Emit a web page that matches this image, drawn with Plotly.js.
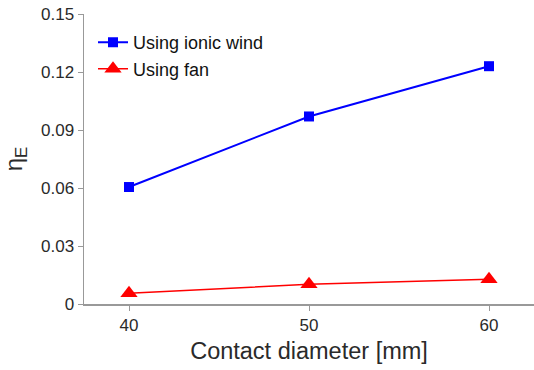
<!DOCTYPE html>
<html>
<head>
<meta charset="utf-8">
<script src="https://cdn.plot.ly/plotly-3.0.1.min.js"></script>
<style>html,body{margin:0;padding:0;background:#fff;}#chart{width:534px;height:370px;}</style>
</head>
<body>
<div id="chart"></div>
<script>
const diameters = [40, 50, 60];
const ionicWind = [0.0605, 0.097, 0.123];
const fan = [0.0055, 0.0102, 0.0128];
const seriesNames = ["Using ionic wind", "Using fan"];
const yTicks = [0, 0.03, 0.06, 0.09, 0.12, 0.15];
const yTickText = ["0", "0.03", "0.06", "0.09", "0.12", "0.15"];

const font = "Liberation Sans, Arial, sans-serif";
const traces = [
  {x: diameters, y: ionicWind, name: seriesNames[0], mode: "lines+markers", legendgroup: "a",
   line: {color: "#0000ff", width: 2}, marker: {symbol: "square", size: 10, color: "#0000ff"}},
  {x: diameters, y: fan, name: seriesNames[1], mode: "lines+markers", legendgroup: "b",
   line: {color: "#ff0000", width: 1.5}, marker: {symbol: "triangle-up", size: 15, color: "#ff0000"}}
];
const layout = {
  width: 534, height: 370,
  margin: {l: 84, r: 0, t: 14, b: 66},
  paper_bgcolor: "#fff", plot_bgcolor: "#fff",
  font: {family: font, color: "#2a2a2a", size: 17},
  showlegend: true,
  legend: {x: 0.02, y: 0.965, xanchor: "left", yanchor: "top", bgcolor: "rgba(0,0,0,0)",
           font: {size: 18, color: "#111"}, tracegroupgap: 0, itemwidth: 30},
  xaxis: {range: [37.5, 62.5], tickvals: diameters, ticktext: diameters.map(String),
          showgrid: false, zeroline: false, showline: true, linecolor: "#999", linewidth: 1.5,
          ticks: "outside", ticklen: 5, tickcolor: "#999", tickfont: {size: 17},
          title: {text: "Contact diameter [mm]", font: {size: 23.5}, standoff: 8}},
  yaxis: {range: [0, 0.15], tickvals: yTicks, ticktext: yTickText,
          showgrid: false, zeroline: false, showline: true, linecolor: "#999", linewidth: 1.5,
          ticks: "outside", ticklen: 5, tickcolor: "#999", tickfont: {size: 17},
          title: {text: "η<sub>E</sub>", font: {size: 24}, standoff: 12}}
};
Plotly.newPlot("chart", traces, layout, {staticPlot: true, displayModeBar: false});
</script>
</body>
</html>
